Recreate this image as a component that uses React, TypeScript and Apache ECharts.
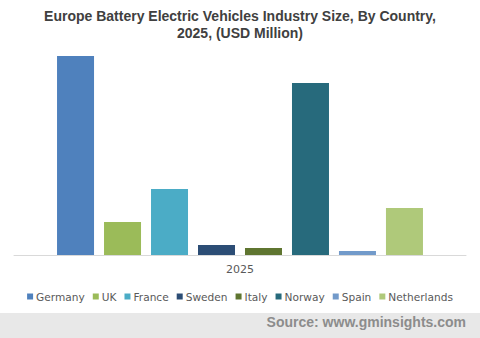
import React, { useEffect, useRef } from "react";
import * as echarts from "echarts";

const categories = ["2025"];
const countries = ["Germany", "UK", "France", "Sweden", "Italy", "Norway", "Spain", "Netherlands"];
const values = [1990, 330, 660, 100, 70, 1720, 40, 470];
const colors = ["#4F81BD", "#9BBB59", "#4BACC6", "#2C4D75", "#5F7530", "#276A7C", "#729ACA", "#AFC97A"];

export default function App() {
  const ref = useRef<HTMLDivElement>(null);
  useEffect(() => {
    const chart = echarts.init(ref.current!, null, { renderer: "svg" });
    chart.setOption({
      animation: false,
      backgroundColor: "#ffffff",
      title: {
        text: "Europe Battery Electric Vehicles Industry Size, By Country,\n2025, (USD Million)",
        left: "center",
        top: 2,
        textStyle: {
          fontFamily: "Liberation Sans, Arial",
          fontSize: 14,
          fontWeight: "bold",
          color: "#404040",
          lineHeight: 17,
        },
      },
      grid: { left: 14, right: 14, top: 55, bottom: 83, containLabel: false },
      xAxis: {
        type: "category",
        data: categories,
        axisLine: { lineStyle: { color: "#d9d9d9", width: 1 } },
        axisTick: { show: false },
        axisLabel: { color: "#595959", fontFamily: "DejaVu Sans, Verdana", fontSize: 11, margin: 9 },
      },
      yAxis: {
        type: "value",
        min: 0,
        max: 2000,
        show: false,
        splitLine: { show: false },
      },
      legend: {
        data: countries,
        top: 286,
        left: "center",
        itemWidth: 6,
        itemHeight: 6,
        itemGap: 8,
        icon: "rect",
        textStyle: { color: "#595959", fontFamily: "DejaVu Sans, Verdana", fontSize: 10.6, padding: [0, 0, 0, -2] },
      },
      series: countries.map((c, i) => ({
        name: c,
        type: "bar",
        data: [values[i]],
        itemStyle: { color: colors[i] },
        barWidth: 37,
        barGap: "27%",
        barCategoryGap: "18.6%",
      })),
      graphic: [
        {
          type: "rect",
          shape: { x: 0, y: 313, width: 480, height: 25 },
          style: { fill: "#e8e8e8" },
          z: -1,
        },
        {
          type: "text",
          right: 14,
          top: 315,
          style: {
            text: "Source: www.gminsights.com",
            fill: "#8c8c8c",
            font: "bold 14px 'Liberation Sans', Arial",
          },
        },
      ],
    });
    return () => chart.dispose();
  }, []);
  return <div ref={ref} style={{ width: 480, height: 338, position: "absolute", left: 0, top: 0 }} />;
}
